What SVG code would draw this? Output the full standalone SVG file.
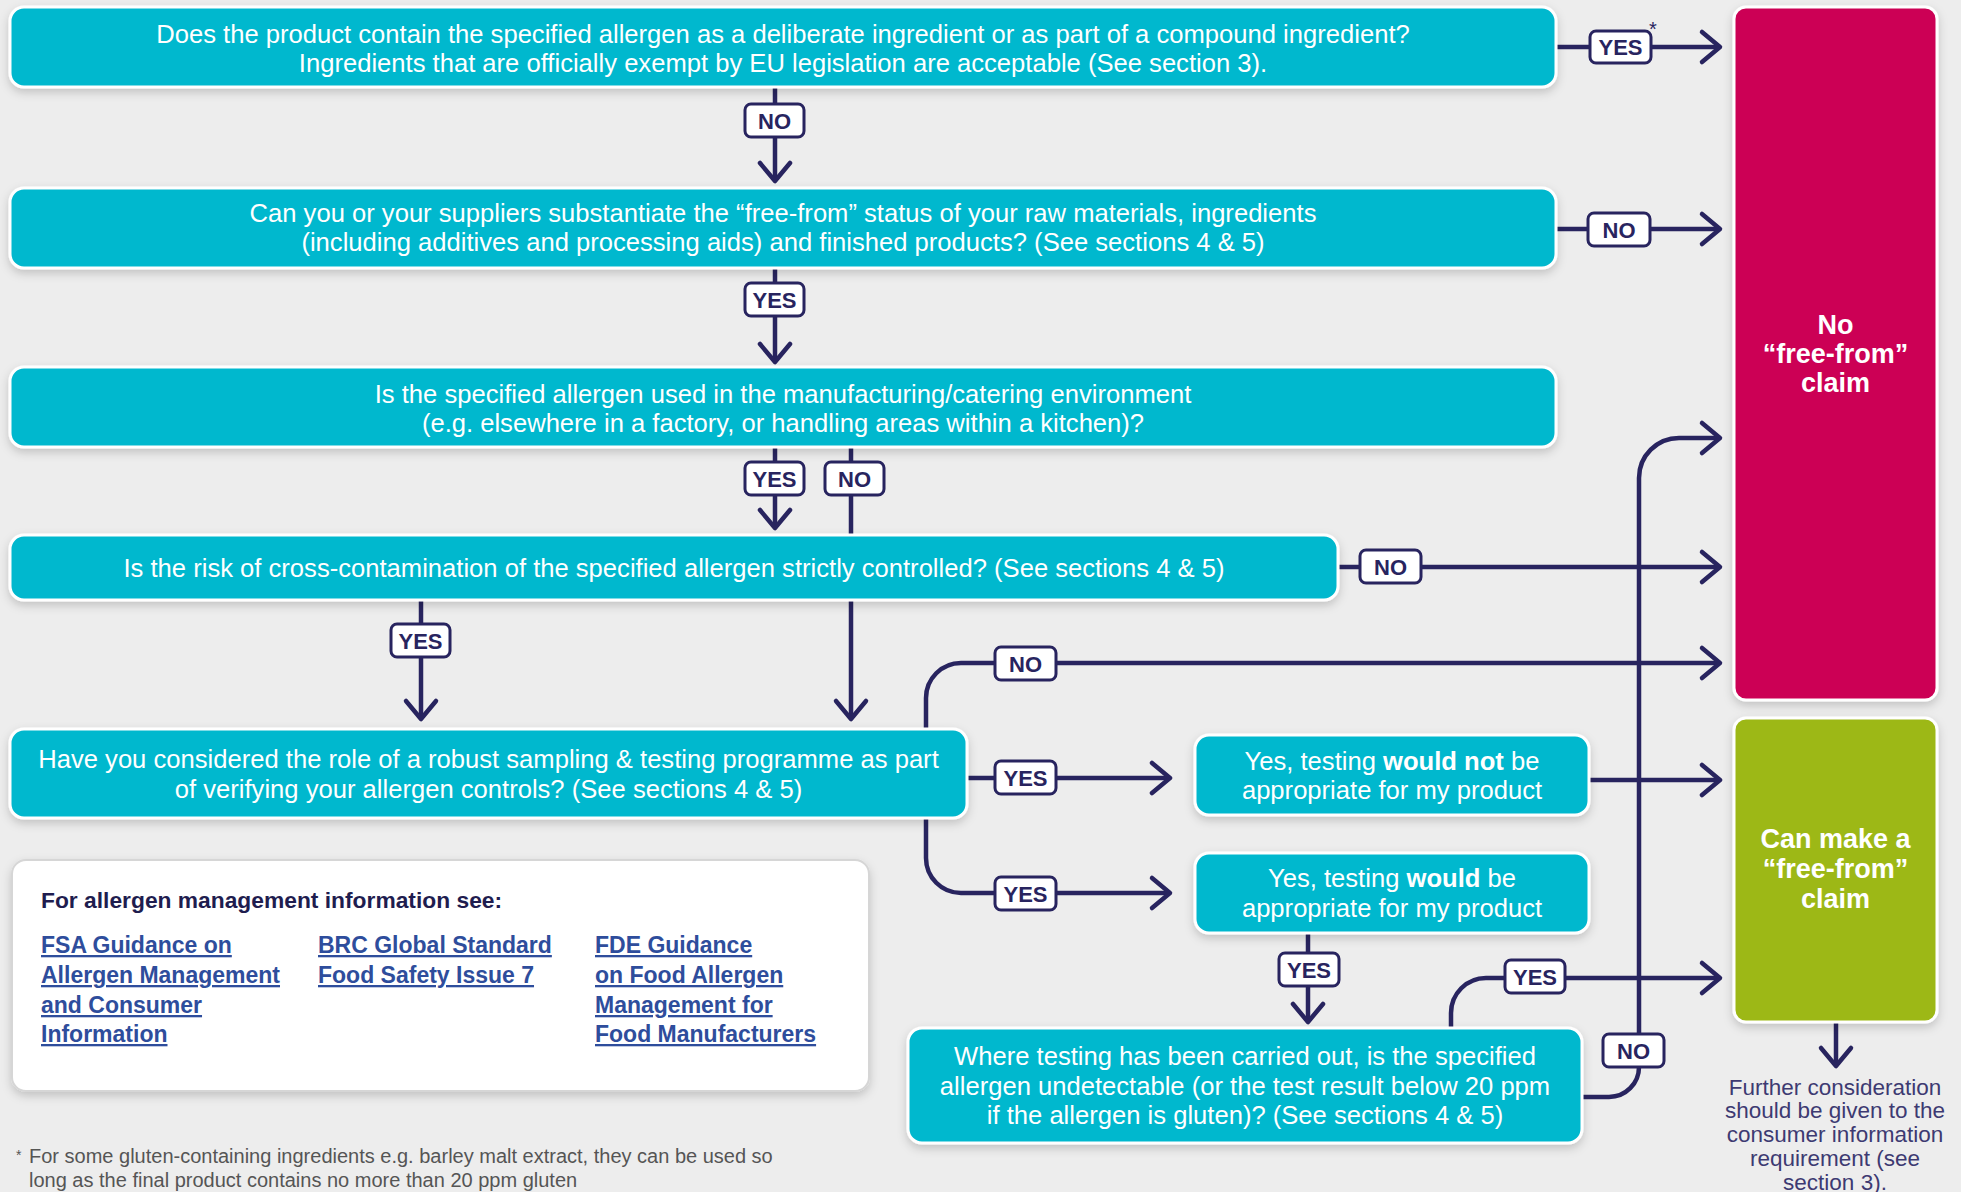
<svg xmlns="http://www.w3.org/2000/svg" width="1961" height="1192" viewBox="0 0 1961 1192">
<defs>
<filter id="sh" x="-5%" y="-20%" width="110%" height="150%">
<feDropShadow dx="0" dy="4" stdDeviation="5" flood-color="#000" flood-opacity="0.18"/>
</filter>
<marker id="ah" markerUnits="userSpaceOnUse" viewBox="0 0 24 36" markerWidth="24" markerHeight="36" refX="20" refY="18" orient="auto" overflow="visible">
<path d="M2,3 L20,18 L2,33" fill="none" stroke="#28245f" stroke-width="4.5" stroke-linecap="round" stroke-linejoin="round"/>
</marker>
<style>
.q{fill:#00b8ce;stroke:#fff;stroke-width:3}
.t{font-family:"Liberation Sans",Arial,sans-serif;font-size:25.6px;fill:#fff;text-anchor:middle}
.c{fill:none;stroke:#28245f;stroke-width:4.5}
.b{fill:#fff;stroke:#28245f;stroke-width:3}
.bt{font-family:"Liberation Sans",Arial,sans-serif;font-size:22px;font-weight:bold;fill:#28245f;text-anchor:middle}
.big{font-family:"Liberation Sans",Arial,sans-serif;font-size:27px;font-weight:bold;fill:#fff;text-anchor:middle}
.lk{font-family:"Liberation Sans",Arial,sans-serif;font-size:23px;font-weight:bold;fill:#2e4d9c;text-decoration:underline}
</style>
</defs>
<rect width="1961" height="1192" fill="#ededed"/>

<g id="connectors">
<path class="c" d="M1556,47 H1720" marker-end="url(#ah)"/>
<path class="c" d="M775,88 V181" marker-end="url(#ah)"/>
<path class="c" d="M1556,229 H1720" marker-end="url(#ah)"/>
<path class="c" d="M775,268 V362" marker-end="url(#ah)"/>
<path class="c" d="M775,447 V528" marker-end="url(#ah)"/>
<path class="c" d="M851,447 V719" marker-end="url(#ah)"/>
<path class="c" d="M1338,567 H1720" marker-end="url(#ah)"/>
<path class="c" d="M421,600 V719" marker-end="url(#ah)"/>
<path class="c" d="M926,729 V698 A35,35 0 0 1 961,663 H1720" marker-end="url(#ah)"/>
<path class="c" d="M967,778 H1170" marker-end="url(#ah)"/>
<path class="c" d="M926,818 V858 A35,35 0 0 0 961,893 H1170" marker-end="url(#ah)"/>
<path class="c" d="M1589,780 H1720" marker-end="url(#ah)"/>
<path class="c" d="M1308,933 V1022" marker-end="url(#ah)"/>
<path class="c" d="M1451,1028 V1013 A35,35 0 0 1 1486,978 H1720" marker-end="url(#ah)"/>
<path class="c" d="M1582,1097 H1609 A30,30 0 0 0 1639,1067 V478 A40,40 0 0 1 1679,438 H1720" marker-end="url(#ah)"/>
<path class="c" d="M1836,1022 V1066" marker-end="url(#ah)"/>

<rect class="b" x="1590" y="31" width="61" height="32" rx="6"/><text class="bt" x="1620.5" y="55">YES</text>
<text x="1653" y="36" font-family="Liberation Sans,sans-serif" font-size="20" fill="#28245f" text-anchor="middle">*</text>
<rect class="b" x="745" y="104" width="59" height="33" rx="6"/><text class="bt" x="774.5" y="128.5">NO</text>
<rect class="b" x="1588" y="213" width="62" height="33" rx="6"/><text class="bt" x="1619" y="237.5">NO</text>
<rect class="b" x="745" y="283" width="59" height="33" rx="6"/><text class="bt" x="774.5" y="307.5">YES</text>
<rect class="b" x="745" y="462" width="59" height="33" rx="6"/><text class="bt" x="774.5" y="486.5">YES</text>
<rect class="b" x="825" y="462" width="59" height="33" rx="6"/><text class="bt" x="854.5" y="486.5">NO</text>
<rect class="b" x="1360" y="550" width="61" height="33" rx="6"/><text class="bt" x="1390.5" y="574.5">NO</text>
<rect class="b" x="391" y="624" width="59" height="33" rx="6"/><text class="bt" x="420.5" y="648.5">YES</text>
<rect class="b" x="995" y="647" width="61" height="33" rx="6"/><text class="bt" x="1025.5" y="671.5">NO</text>
<rect class="b" x="995" y="761" width="61" height="33" rx="6"/><text class="bt" x="1025.5" y="785.5">YES</text>
<rect class="b" x="995" y="877" width="61" height="33" rx="6"/><text class="bt" x="1025.5" y="901.5">YES</text>
<rect class="b" x="1279" y="953" width="60" height="33" rx="6"/><text class="bt" x="1309" y="977.5">YES</text>
<rect class="b" x="1505" y="960" width="60" height="33" rx="6"/><text class="bt" x="1535" y="984.5">YES</text>
<rect class="b" x="1603" y="1034" width="61" height="33" rx="6"/><text class="bt" x="1633.5" y="1058.5">NO</text>
</g>

<g id="q1">
<rect class="q" x="10" y="7" width="1546" height="80" rx="14" filter="url(#sh)"/>
<text class="t" x="783" y="43">Does the product contain the specified allergen as a deliberate ingredient or as part of a compound ingredient?</text>
<text class="t" x="783" y="72">Ingredients that are officially exempt by EU legislation are acceptable (See section 3).</text>
</g>
<g id="q2">
<rect class="q" x="10" y="188" width="1546" height="80" rx="14" filter="url(#sh)"/>
<text class="t" x="783" y="222">Can you or your suppliers substantiate the “free-from” status of your raw materials, ingredients</text>
<text class="t" x="783" y="251">(including additives and processing aids) and finished products? (See sections 4 &amp; 5)</text>
</g>
<g id="q3">
<rect class="q" x="10" y="367" width="1546" height="80" rx="14" filter="url(#sh)"/>
<text class="t" x="783" y="403">Is the specified allergen used in the manufacturing/catering environment</text>
<text class="t" x="783" y="432">(e.g. elsewhere in a factory, or handling areas within a kitchen)?</text>
</g>
<g id="q4">
<rect class="q" x="10" y="535" width="1328" height="65" rx="14" filter="url(#sh)"/>
<text class="t" x="674" y="577">Is the risk of cross-contamination of the specified allergen strictly controlled? (See sections 4 &amp; 5)</text>
</g>
<g id="q5">
<rect class="q" x="10" y="729" width="957" height="89" rx="14" filter="url(#sh)"/>
<text class="t" x="488.5" y="768">Have you considered the role of a robust sampling &amp; testing programme as part</text>
<text class="t" x="488.5" y="798">of verifying your allergen controls? (See sections 4 &amp; 5)</text>
</g>
<g id="wouldnot">
<rect class="q" x="1195" y="735" width="394" height="80" rx="14" filter="url(#sh)"/>
<text class="t" x="1392" y="770">Yes, testing <tspan font-weight="bold">would not</tspan> be</text>
<text class="t" x="1392" y="799">appropriate for my product</text>
</g>
<g id="would">
<rect class="q" x="1195" y="853" width="394" height="80" rx="14" filter="url(#sh)"/>
<text class="t" x="1392" y="887">Yes, testing <tspan font-weight="bold">would</tspan> be</text>
<text class="t" x="1392" y="917">appropriate for my product</text>
</g>
<g id="q6">
<rect class="q" x="908" y="1028" width="674" height="115" rx="14" filter="url(#sh)"/>
<text class="t" x="1245" y="1065">Where testing has been carried out, is the specified</text>
<text class="t" x="1245" y="1095">allergen undetectable (or the test result below 20 ppm</text>
<text class="t" x="1245" y="1124">if the allergen is gluten)? (See sections 4 &amp; 5)</text>
</g>
<g id="noclaim">
<rect x="1734" y="7" width="203" height="693" rx="12" fill="#cc0055" stroke="#fff" stroke-width="3" filter="url(#sh)"/>
<text class="big" x="1835.5" y="334">No</text>
<text class="big" x="1835.5" y="363">“free-from”</text>
<text class="big" x="1835.5" y="392">claim</text>
</g>
<g id="claim">
<rect x="1734" y="718" width="203" height="304" rx="12" fill="#9db813" stroke="#fff" stroke-width="3" filter="url(#sh)"/>
<text class="big" x="1835.5" y="848">Can make a</text>
<text class="big" x="1835.5" y="878">“free-from”</text>
<text class="big" x="1835.5" y="908">claim</text>
</g>
<g id="further" font-family="Liberation Sans,Arial,sans-serif" font-size="22.5" fill="#3d3a72" text-anchor="middle">
<text x="1835" y="1095">Further consideration</text>
<text x="1835" y="1118">should be given to the</text>
<text x="1835" y="1142">consumer information</text>
<text x="1835" y="1166">requirement (see</text>
<text x="1835" y="1190">section 3).</text>
</g>
<g id="info">
<rect x="12" y="860" width="857" height="231" rx="14" fill="#fff" stroke="#d6d6d6" stroke-width="2" filter="url(#sh)"/>
<text x="41" y="908" font-family="Liberation Sans,Arial,sans-serif" font-size="22.8" font-weight="bold" fill="#1f1d4f">For allergen management information see:</text>
<text class="lk" x="41" y="953">FSA Guidance on</text>
<text class="lk" x="41" y="983">Allergen Management</text>
<text class="lk" x="41" y="1013">and Consumer</text>
<text class="lk" x="41" y="1042">Information</text>
<text class="lk" x="318" y="953">BRC Global Standard</text>
<text class="lk" x="318" y="983">Food Safety Issue 7</text>
<text class="lk" x="595" y="953">FDE Guidance</text>
<text class="lk" x="595" y="983">on Food Allergen</text>
<text class="lk" x="595" y="1013">Management for</text>
<text class="lk" x="595" y="1042">Food Manufacturers</text>
</g>
<g id="footnote" font-family="Liberation Sans,Arial,sans-serif" font-size="20" fill="#555">
<text x="16" y="1160" font-size="14">*</text>
<text x="29" y="1163">For some gluten-containing ingredients e.g. barley malt extract, they can be used so</text>
<text x="29" y="1187">long as the final product contains no more than 20 ppm gluten</text>
</g>
</svg>
